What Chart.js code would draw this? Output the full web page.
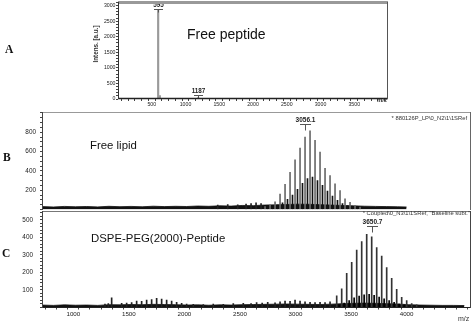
<!DOCTYPE html>
<html><head><meta charset="utf-8">
<script src="https://cdn.jsdelivr.net/npm/chart.js@4.4.0/dist/chart.umd.min.js"></script>
<style>
html,body{margin:0;padding:0;background:#fff;width:474px;height:322px;overflow:hidden;position:relative;}
canvas{position:absolute;left:0;top:0;}
.t{position:absolute;white-space:nowrap;font-family:"Liberation Sans",Arial,sans-serif;color:#111;line-height:1;}
.L{font-family:"Liberation Serif","Times New Roman",serif;font-weight:bold;font-size:11.5px;}
</style></head><body>
<canvas id="cA" width="474" height="322"></canvas>
<canvas id="cB" width="474" height="322"></canvas>
<canvas id="cC" width="474" height="322"></canvas>
<div class="t L" style="left:5px;top:44.4px">A</div>
<div class="t L" style="left:3px;top:152.4px">B</div>
<div class="t L" style="left:2px;top:248.4px">C</div>
<div class="t" style="left:187px;top:26.5px;font-size:14px">Free peptide</div>
<div class="t" style="left:90px;top:140.3px;font-size:11.4px">Free lipid</div>
<div class="t" style="left:91px;top:232.9px;font-size:11.4px">DSPE-PEG(2000)-Peptide</div>
<div class="t" style="left:96px;top:43.5px;font-size:6.3px;font-weight:bold;color:#333;transform:translate(-50%,-50%) rotate(-90deg)">Intens. [a.u.]</div>
<div class="t" style="right:7px;top:116px;font-size:5.8px;color:#333">* 880126P_LP\0_N2\1\1SRef</div>
<div class="t" style="right:4px;top:211px;font-size:5.8px;color:#333">* Coupled\0_N3\1\1SRef, "Baseline subt."</div>
<div class="t" style="left:377px;top:97px;font-size:6px;font-weight:bold;color:#333">m/z</div>
<div class="t" style="left:458px;top:314.5px;font-size:7px;color:#333">m/z</div>
<script>
// ---------- Panel A: free peptide ----------
const peptideMz  = [595, 620, 1187];
const peptideInt = [2860, 110, 40];
const peptideLabelMz   = [595, 1187];
const peptideLabelAt   = [2885, 131];
const peptideLabelText = ['595', '1187'];
const peptideXTicks = [500, 1000, 1500, 2000, 2500, 3000, 3500];
const peptideYTicks = [0, 500, 1000, 1500, 2000, 2500, 3000];

// ---------- Panel B: free lipid ----------
const lipidMainMz  = [2726,2771,2816,2861,2906,2951,2996,3041,3086,3131,3176,3221,3266,3311,3356,3401,3446,3491,3536,3581];
const lipidMainInt = [30,45,80,160,260,385,515,635,750,815,715,595,425,350,265,195,110,75,40,25];
const lipidSideMz  = [2748,2793,2838,2883,2928,2973,3018,3063,3108,3153,3198,3243,3288,3333,3378,3423,3468,3513,3558];
const lipidSideInt = [20,30,45,70,105,150,210,270,320,335,300,250,190,140,95,60,38,22,15];
const lipidMinorMz  = [2300,2390,2480,2555,2600,2645,2690];
const lipidMinorInt = [45,50,48,55,62,70,60];
const lipidNoiseMz  = [720,820,920,1020,1120,1220,1320,1420,1520,1620,1720,1820,1920,2020,2120,2220,2320,2420,2520,2620,2720,2820,2920,3020,3120,3220,3320,3420,3520,3620,3720,3820,3920,4000];
const lipidNoiseInt = [30,26,32,28,31,27,33,29,32,28,34,30,33,31,36,33,38,35,42,40,46,48,52,55,54,50,46,42,38,34,32,30,28,26];
const lipidLabelMz   = [3086];
const lipidLabelAt   = [881];
const lipidLabelText = ['3056.1'];
const lipidYTicks = [200, 400, 600, 800];

// ---------- Panel C: DSPE-PEG(2000)-peptide ----------
const conjMainMz  = [3371,3416,3461,3506,3551,3596,3641,3686,3731,3776,3821,3866,3911,3956,4001,4046,4091];
const conjMainInt = [66,106,195,258,328,377,418,404,342,294,228,166,104,58,39,22,15];
const conjSideMz  = [3393,3438,3483,3528,3573,3618,3663,3708,3753,3798,3843,3888,3933,3978];
const conjSideInt = [15,25,40,55,65,72,75,70,60,50,40,30,20,15];
const conjMinorMz  = [1285,1315,1345,1435,1480,1525,1570,1615,1660,1705,1750,1795,1840,1885,1930,1975,2020,2080,2170,2260,2350,2440,2530,2600,2650,2700,2750,2816,2861,2906,2951,2996,3041,3086,3131,3176,3221,3266,3311];
const conjMinorInt = [20,22,55,24,25,28,37,35,43,45,52,48,43,37,30,24,20,18,16,20,18,22,24,22,28,25,30,27,33,37,35,43,37,33,30,28,30,28,33];
const conjNoiseMz  = [720,820,920,1020,1120,1220,1320,1420,1520,1620,1720,1820,1920,2020,2120,2220,2320,2420,2520,2620,2720,2820,2920,3020,3120,3220,3320,3420,3520,3620,3720,3820,3920,4020,4120,4220,4320,4420,4520];
const conjNoiseInt = [14,12,15,13,14,12,16,15,17,16,18,17,16,14,15,13,15,14,16,17,18,19,20,19,18,17,19,22,24,25,24,22,20,16,14,13,12,12,11];
const conjLabelMz   = [3686];
const conjLabelAt   = [463];
const conjLabelText = ['3650.7'];
const conjXTicks = [1000, 1500, 2000, 2500, 3000, 3500, 4000];
const conjYTicks = [100, 200, 300, 400, 500];

// ---------- helpers ----------
const pts = (xs, ys) => xs.map((x, i) => ({x: x, y: ys[i]}));
const labelItems = (ms, at, tx) => ms.map((m, i) => ({mz: m, at: at[i], text: tx[i]}));
const FONT = '"Liberation Sans", Arial, sans-serif';

const peakLabelPlugin = {
  id: 'peakLabels',
  afterDatasetsDraw(chart, args, o) {
    if (!o || !o.items) return;
    const ctx = chart.ctx, xs = chart.scales.x, ys = chart.scales.y;
    ctx.save();
    o.items.forEach(it => {
      const px = Math.round(xs.getPixelForValue(it.mz)) + 0.5;
      const py = Math.round(ys.getPixelForValue(it.at)) + 0.5;
      ctx.strokeStyle = o.lineColor; ctx.lineWidth = 1;
      ctx.beginPath();
      ctx.moveTo(px - o.w / 2, py); ctx.lineTo(px + o.w / 2, py);
      ctx.moveTo(px, py); ctx.lineTo(px, py + o.drop);
      ctx.stroke();
      ctx.font = 'bold ' + o.size + 'px ' + FONT;
      ctx.fillStyle = o.color; ctx.textAlign = 'center'; ctx.textBaseline = 'bottom';
      ctx.fillText(it.text, px, py - 1);
    });
    ctx.restore();
  }
};
const framePlugin = {
  id: 'frame',
  afterDraw(chart, args, o) {
    const a = chart.chartArea, ctx = chart.ctx;
    const L = Math.round(a.left) + 0.5, R = Math.round(a.right) - 0.5;
    const T = Math.round(a.top) + 0.5, B = Math.round(a.bottom) - 0.5;
    const seg = (s, x1, y1, x2, y2) => {
      if (!s) return;
      ctx.strokeStyle = s.color; ctx.lineWidth = s.width;
      ctx.beginPath(); ctx.moveTo(x1, y1); ctx.lineTo(x2, y2); ctx.stroke();
    };
    ctx.save();
    seg(o.top, L - 0.5, T, R + 0.5, T);
    seg(o.bottom, L - 0.5, B, R + 0.5, B);
    seg(o.left, L, T - 0.5, L, B + 0.5);
    seg(o.right, R, T - 0.5, R, B + 0.5);
    ctx.restore();
  }
};
Chart.register(peakLabelPlugin, framePlugin);

function fixAxis(w, h) {
  return function (s) {
    if (w !== null) s.width = w;
    if (h !== null) s.height = h;
    s.paddingTop = 0; s.paddingBottom = 0; s.paddingLeft = 0; s.paddingRight = 0;
  };
}
function bars(data, color, thick) {
  return {type: 'bar', data: data, backgroundColor: color, borderWidth: 0,
          barThickness: thick, grouped: false, order: 1};
}
function noise(data, color) {
  return {type: 'line', data: data, borderColor: color, backgroundColor: color,
          borderWidth: 0.8, pointRadius: 0, tension: 0, fill: 'origin', order: 2};
}
function makeChart(id, c) {
  return new Chart(document.getElementById(id), {
    type: 'bar',
    data: {datasets: c.datasets},
    options: {
      responsive: false, animation: false, devicePixelRatio: 1,
      layout: {padding: c.padding},
      plugins: {legend: {display: false}, tooltip: {enabled: false},
        peakLabels: c.peakLabels, frame: c.frame},
      scales: {
        x: {type: 'linear', min: c.xmin, max: c.xmax, offset: false,
          display: c.xShow,
          grid: {display: c.xShow, drawOnChartArea: false, drawTicks: true, tickLength: 2, color: '#444'},
          border: {display: false},
          ticks: {display: c.xShow, stepSize: c.xstep, autoSkip: false, maxRotation: 0, includeBounds: false,
            padding: c.xPad, color: '#222', font: {family: FONT, size: c.xFont},
            callback: v => c.xTicks.includes(v) ? String(v) : ''},
          afterFit: fixAxis(null, c.xH)},
        y: {type: 'linear', min: 0, max: c.ymax,
          grid: {drawOnChartArea: false, drawTicks: true, tickLength: 2, color: '#444'},
          border: {display: false},
          ticks: {stepSize: c.ystep, autoSkip: false, includeBounds: false,
            padding: c.yPad, color: '#222', font: {family: FONT, size: c.yFont},
            callback: v => c.yTicks.includes(v) ? String(v) : ''},
          afterFit: fixAxis(c.yW, null)}
      }
    }
  });
}

// Panel A
makeChart('cA', {
  datasets: [bars(pts(peptideMz, peptideInt), '#9a9a9a', 1.5)],
  padding: {left: 88, right: 86, top: 2, bottom: 213},
  xmin: 0, xmax: 4000, xstep: 100, xTicks: peptideXTicks, xShow: true, xH: 10, xPad: 0, xFont: 5.2,
  ymax: 3115, ystep: 100, yTicks: peptideYTicks, yW: 30, yPad: 0.5, yFont: 5.2,
  peakLabels: {items: labelItems(peptideLabelMz, peptideLabelAt, peptideLabelText),
    w: 9, drop: 3, size: 6.3, color: '#222', lineColor: '#555'},
  frame: {top: {color: '#999', width: 3}, bottom: {color: '#222', width: 1.5},
    left: {color: '#333', width: 1}, right: {color: '#555', width: 1}}
});

// Panel B
makeChart('cB', {
  datasets: [
    noise(pts(lipidNoiseMz, lipidNoiseInt), '#111'),
    bars(pts(lipidMinorMz, lipidMinorInt), '#222', 1),
    bars(pts(lipidMainMz, lipidMainInt), '#6a6a6a', 1),
    bars(pts(lipidSideMz, lipidSideInt), '#111', 1)
  ],
  padding: {left: 12, right: 3, top: 112, bottom: 112.5},
  xmin: 718, xmax: 4580, xstep: 100, xTicks: [], xShow: false, xH: 0, xPad: 0, xFont: 6,
  ymax: 1009, ystep: 50, yTicks: lipidYTicks, yW: 30, yPad: 4, yFont: 6.4,
  peakLabels: {items: labelItems(lipidLabelMz, lipidLabelAt, lipidLabelText),
    w: 11, drop: 6, size: 6.5, color: '#222', lineColor: '#555'},
  frame: {top: {color: '#999', width: 1}, left: {color: '#444', width: 1}, right: {color: '#666', width: 1}}
});

// Panel C
makeChart('cC', {
  datasets: [
    noise(pts(conjNoiseMz, conjNoiseInt), '#111'),
    bars(pts(conjMinorMz, conjMinorInt), '#222', 1),
    bars(pts(conjMainMz, conjMainInt), '#333', 1),
    bars(pts(conjSideMz, conjSideInt), '#000', 1)
  ],
  padding: {left: 12, right: 3, top: 210.5, bottom: 2.5},
  xmin: 718, xmax: 4580, xstep: 100, xTicks: conjXTicks, xShow: true, xH: 12, xPad: 1, xFont: 6.2,
  ymax: 554, ystep: 20, yTicks: conjYTicks, yW: 30, yPad: 7, yFont: 6.4,
  peakLabels: {items: labelItems(conjLabelMz, conjLabelAt, conjLabelText),
    w: 11, drop: 6, size: 6.5, color: '#222', lineColor: '#555'},
  frame: {top: {color: '#777', width: 1}, bottom: {color: '#222', width: 1},
    left: {color: '#444', width: 1}, right: {color: '#444', width: 1}}
});
</script>
</body></html>
